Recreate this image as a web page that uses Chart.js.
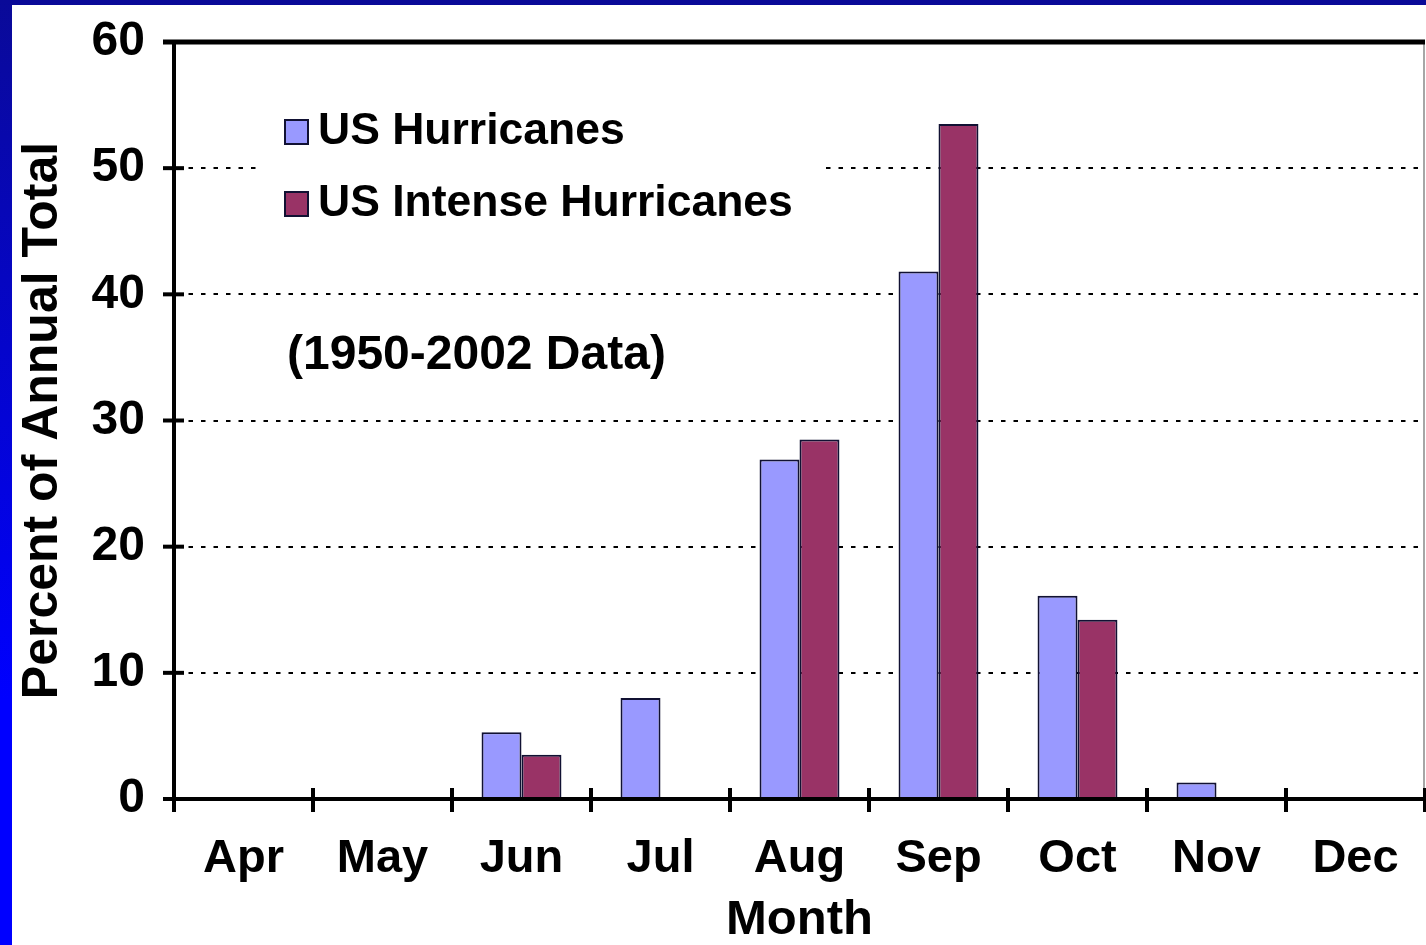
<!DOCTYPE html>
<html>
<head>
<meta charset="utf-8">
<script src="https://cdn.jsdelivr.net/npm/chart.js@4.4.1/dist/chart.umd.min.js"></script>
<style>
  html, body { margin: 0; padding: 0; }
  body {
    width: 1426px; height: 945px; overflow: hidden; position: relative;
    background: linear-gradient(to bottom, #0a0a98 0px, #0000ff 700px);
  }
  #wrap { position: absolute; left: 12px; top: 5px; width: 1414px; height: 940px; background: #fff; }
  canvas { display: block; }
</style>
</head>
<body>
<div id="wrap"><canvas id="c" width="1414" height="940"></canvas></div>
<script>
// Monthly share of the annual US hurricane count, 1950-2002
const months = ['Apr', 'May', 'Jun', 'Jul', 'Aug', 'Sep', 'Oct', 'Nov', 'Dec'];
const usHurricanes = [0, 0, 5.3, 8.0, 26.9, 41.8, 16.1, 1.3, 0];
const usIntenseHurricanes = [0, 0, 3.5, 0, 28.5, 53.5, 14.2, 0, 0];
const yTicks = [0, 10, 20, 30, 40, 50, 60];
const seriesNames = ['US Hurricanes', 'US Intense Hurricanes'];
const seriesColors = ['#9999ff', '#993366'];
const periodNote = '(1950-2002 Data)';
const yTitle = 'Percent of Annual Total';
const xTitle = 'Month';

const FONT = "'Liberation Sans', Arial, Helvetica, sans-serif";

function strokeLine(ctx, x1, y1, x2, y2) {
  ctx.beginPath(); ctx.moveTo(x1, y1); ctx.lineTo(x2, y2); ctx.stroke();
}

// Frame line along the top, thin right edge, and tick marks that cross both axes
const axisMarks = {
  id: 'axisMarks',
  afterDraw(chart) {
    const { ctx, chartArea: a, scales: { x, y } } = chart;
    ctx.save();
    ctx.lineCap = 'butt';
    const yTop = y.getPixelForValue(y.max);
    const yBase = y.getPixelForValue(0);
    ctx.strokeStyle = '#888'; ctx.lineWidth = 1.5;
    strokeLine(ctx, a.right - 1, yTop, a.right - 1, yBase);
    ctx.strokeStyle = '#000'; ctx.lineWidth = 5;
    strokeLine(ctx, a.left - 11, yTop, a.right, yTop);
    ctx.lineWidth = 4;
    y.ticks.forEach((t, i) => {
      const py = y.getPixelForTick(i);
      strokeLine(ctx, a.left - 11, py, a.left + 10, py);
    });
    const half = (x.getPixelForValue(1) - x.getPixelForValue(0)) / 2;
    for (let i = 0; i <= months.length; i++) {
      const px = x.getPixelForValue(i) - half;
      strokeLine(ctx, px, yBase - 11, px, yBase + 13);
    }
    ctx.restore();
  }
};

// Legend block and period note inside the plot area
const insetLegend = {
  id: 'insetLegend',
  beforeDatasetsDraw(chart) {
    const { ctx, chartArea: a } = chart;
    ctx.save();
    ctx.fillStyle = '#fff';
    ctx.fillRect(a.left + 82, a.top + 48, 566, 150);
    ctx.font = 'bold 44.5px ' + FONT;
    ctx.textBaseline = 'middle';
    ctx.textAlign = 'left';
    chart.data.datasets.forEach((ds, i) => {
      const cy = a.top + 89 + i * 72;
      ctx.fillStyle = ds.backgroundColor;
      ctx.fillRect(a.left + 111, cy - 11, 23, 24);
      ctx.strokeStyle = '#111133'; ctx.lineWidth = 2;
      ctx.strokeRect(a.left + 111, cy - 11, 23, 24);
      ctx.fillStyle = '#000';
      ctx.fillText(ds.label, a.left + 144, cy + 1);
    });
    ctx.font = 'bold 48px ' + FONT;
    ctx.fillText(periodNote, a.left + 113, a.top + 314);
    ctx.restore();
  }
};

new Chart(document.getElementById('c'), {
  type: 'bar',
  data: {
    labels: months,
    datasets: [
      { label: seriesNames[0], data: usHurricanes, backgroundColor: seriesColors[0],
        borderColor: '#111133', borderWidth: 2, borderSkipped: 'start' },
      { label: seriesNames[1], data: usIntenseHurricanes, backgroundColor: seriesColors[1],
        borderColor: '#111133', borderWidth: 2, borderSkipped: 'start' }
    ]
  },
  options: {
    responsive: false,
    animation: false,
    devicePixelRatio: 1,
    layout: { padding: { top: 37, right: 1, left: 0, bottom: 0 } },
    datasets: { bar: { categoryPercentage: 0.575, barPercentage: 1.0 } },
    plugins: { legend: { display: false }, tooltip: { enabled: false }, title: { display: false } },
    scales: {
      x: {
        grid: { display: false },
        border: { display: true, color: '#000', width: 4, z: 1 },
        ticks: { color: '#000', padding: 24, font: { family: FONT, size: 47, weight: 'bold' }, maxRotation: 0 },
        title: { display: true, text: xTitle, color: '#000', padding: { top: 0, bottom: 0 },
                 font: { family: FONT, size: 49, weight: 'bold', lineHeight: 1 } },
        afterFit(s) { s.height = 146; }
      },
      y: {
        min: 0, max: 60,
        afterBuildTicks(s) { s.ticks = yTicks.map(v => ({ value: v })); },
        grid: {
          drawTicks: false,
          lineWidth: 2,
          color: c => (c.tick && (c.tick.value === 0 || c.tick.value === 60)) ? 'rgba(0,0,0,0)' : '#000'
        },
        border: { display: true, color: '#000', width: 4, dash: [4.5, 8], z: 1 },
        ticks: { color: '#000', padding: 29, font: { family: FONT, size: 48, weight: 'bold', lineHeight: 0.15 } },
        title: { display: true, text: yTitle, color: '#000', padding: { top: 6, bottom: 0 },
                 font: { family: FONT, size: 50, weight: 'bold', lineHeight: 1 } },
        afterFit(s) { s.width = 162; }
      }
    }
  },
  plugins: [insetLegend, axisMarks]
});
</script>
</body>
</html>
